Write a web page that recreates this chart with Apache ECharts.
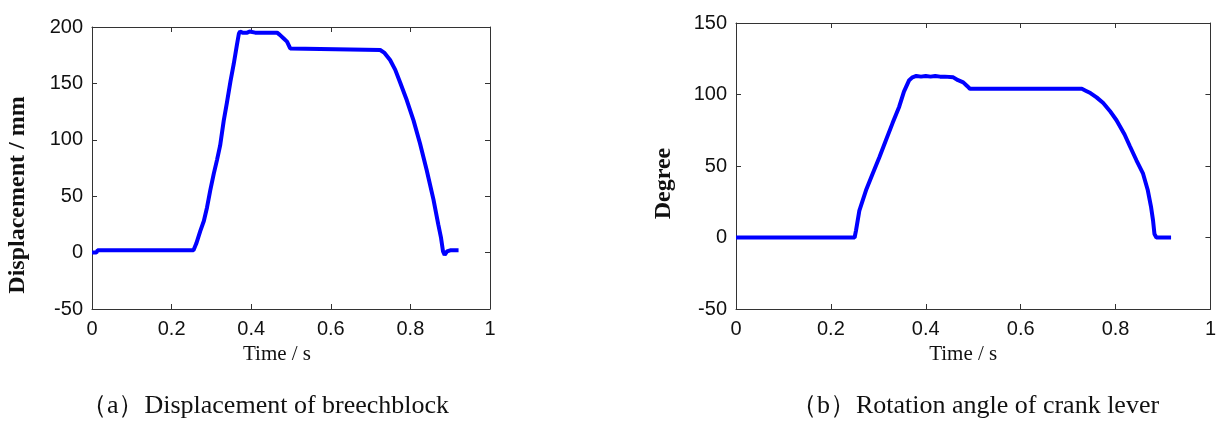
<!DOCTYPE html>
<html>
<head>
<meta charset="utf-8">
<script src="https://cdn.jsdelivr.net/npm/echarts@6/dist/echarts.min.js"></script>
<style>
html,body{margin:0;padding:0;background:#fff;}
#c{width:1219px;height:424px;}
</style>
</head>
<body>
<div id="c"></div>
<script>
// (a) Displacement of breechblock
var timeA = [0, 0.011, 0.014, 0.255, 0.262, 0.272, 0.281, 0.289, 0.297, 0.306, 0.314, 0.322, 0.331, 0.339, 0.348, 0.356, 0.364, 0.369, 0.372, 0.378, 0.383, 0.39, 0.396, 0.40, 0.41, 0.465, 0.472, 0.481, 0.49, 0.498, 0.5, 0.724, 0.735, 0.749, 0.762, 0.774, 0.791, 0.808, 0.824, 0.841, 0.858, 0.870, 0.877, 0.882, 0.886, 0.892, 0.90, 0.921];
var dispA = [0, 0, 2, 2, 8, 19, 28, 40, 55, 70, 82, 95, 117, 133, 152, 167, 184, 194, 196, 195, 196, 195, 196, 195, 195, 195, 193, 190, 187, 181, 179.6, 179.6, 177, 170.7, 162, 151, 135, 117, 97, 73, 47, 25, 13, 1, -2, 1, 2, 2];
// (b) Rotation angle of crank lever
var timeB = [0, 0.25, 0.253, 0.26, 0.274, 0.288, 0.302, 0.316, 0.33, 0.344, 0.354, 0.365, 0.372, 0.38, 0.39, 0.40, 0.41, 0.42, 0.43, 0.44, 0.458, 0.468, 0.479, 0.487, 0.493, 0.5, 0.729, 0.738, 0.747, 0.76, 0.774, 0.788, 0.802, 0.819, 0.83, 0.844, 0.858, 0.868, 0.875, 0.879, 0.882, 0.886, 0.917];
var angleB = [0, 0, 5, 18.8, 33, 44.6, 56, 68, 80, 91.5, 102, 110, 112, 113, 112.5, 113, 112.5, 113, 112.5, 112.5, 112, 110, 108.5, 106, 104, 104, 104, 102.5, 101, 98, 94, 88.5, 82, 72, 64, 54, 44.6, 33, 21, 12, 2.4, 0, 0];
// axis ranges / ticks
var xTicks = {min: 0, max: 1, interval: 0.2};
var yTicksA = {min: -50, max: 200, interval: 50};
var yTicksB = {min: -50, max: 150, interval: 50};
var xName = 'Time / s';
var yNameA = 'Displacement / mm';
var yNameB = 'Degree';
var captionA = '（a）Displacement of breechblock';
var captionB = '（b）Rotation angle of crank lever';

function pairs(xs, ys){ return xs.map(function(x,i){ return [x, ys[i]]; }); }

var lineCol = '#333';
var labelFont = {fontFamily: 'Liberation Sans, Arial, sans-serif', fontSize: 20, color: '#111'};

function xAx(grid, primary){
  return {
    type: 'value', gridIndex: grid, position: primary ? 'bottom' : 'top',
    min: xTicks.min, max: xTicks.max, interval: xTicks.interval,
    axisLine: {show: true, onZero: false, lineStyle: {color: lineCol, width: 1}},
    axisTick: {show: true, inside: true, length: 5, lineStyle: {color: lineCol}},
    axisLabel: primary ? Object.assign({show: true, margin: 10}, labelFont) : {show: false},
    splitLine: {show: false},
    name: primary ? xName : '', nameLocation: 'middle', nameGap: 35,
    nameTextStyle: {fontFamily: 'Liberation Serif, Times New Roman, serif', fontSize: 21, color: '#111', padding: grid === 0 ? [0, 28, 0, 0] : [0, 20, 0, 0]}
  };
}
function yAx(grid, primary, ticks, name, gap, pad){
  return {
    type: 'value', gridIndex: grid, position: primary ? 'left' : 'right',
    min: ticks.min, max: ticks.max, interval: ticks.interval,
    axisLine: {show: true, onZero: false, lineStyle: {color: lineCol, width: 1}},
    axisTick: {show: true, inside: true, length: 5, lineStyle: {color: lineCol}},
    axisLabel: primary ? Object.assign({show: true, margin: 9}, labelFont) : {show: false},
    splitLine: {show: false},
    name: primary ? name : '', nameLocation: 'middle', nameRotate: 90, nameGap: gap,
    nameTextStyle: {fontFamily: 'Liberation Serif, Times New Roman, serif', fontWeight: 'bold', fontSize: 24, color: '#111', padding: pad}
  };
}

var chart = echarts.init(document.getElementById('c'), null, {renderer: 'canvas'});
chart.setOption({
  animation: false,
  backgroundColor: '#fff',
  grid: [
    {left: 92, top: 27, width: 398, height: 282},
    {left: 736, top: 23, width: 477, height: 286}
  ],
  xAxis: [xAx(0, true), xAx(1, true), xAx(0, false), xAx(1, false)],
  yAxis: [
    yAx(0, true, yTicksA, yNameA, 62, [0, 54, 0, 0]),
    yAx(1, true, yTicksB, yNameB, 60, [0, 35, 0, 0]),
    yAx(0, false, yTicksA, '', 0, 0),
    yAx(1, false, yTicksB, '', 0, 0)
  ],
  series: [
    {type: 'line', xAxisIndex: 0, yAxisIndex: 0, data: pairs(timeA, dispA), showSymbol: false, lineStyle: {color: '#0000ff', width: 4}, itemStyle: {color: '#0000ff'}},
    {type: 'line', xAxisIndex: 1, yAxisIndex: 1, data: pairs(timeB, angleB), showSymbol: false, lineStyle: {color: '#0000ff', width: 4}, itemStyle: {color: '#0000ff'}}
  ],
  graphic: [
    {type: 'text', x: 265, y: 406, style: {text: captionA, textAlign: 'center', textVerticalAlign: 'middle', font: '26px "Liberation Serif", "Times New Roman", serif', fill: '#111'}},
    {type: 'text', x: 975, y: 406, style: {text: captionB, textAlign: 'center', textVerticalAlign: 'middle', font: '26px "Liberation Serif", "Times New Roman", serif', fill: '#111'}}
  ]
});
</script>
</body>
</html>
